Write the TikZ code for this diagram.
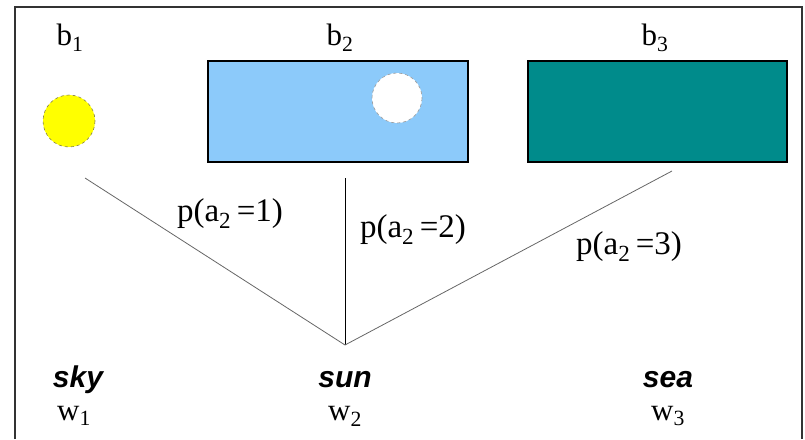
\documentclass[tikz,border=0pt]{standalone}
\usepackage{fontspec}
\setmainfont{Liberation Serif}
\setsansfont{Liberation Sans}
\definecolor{sunyellow}{RGB}{255,255,0}
\definecolor{skyblue}{RGB}{140,202,250}
\definecolor{seateal}{RGB}{0,139,139}

\begin{document}
\begin{tikzpicture}[x=1pt, y=-1pt,
  lbl/.style={font=\fontsize{31}{34}\selectfont, inner sep=0pt},
  word/.style={font=\sffamily\bfseries\itshape\fontsize{30}{32}\selectfont, inner sep=0pt},
  prob/.style={font=\fontsize{33}{36}\selectfont, inner sep=0pt}]
\useasboundingbox (0,0) rectangle (805,439);
\draw[black!80, line width=1.6pt] (15,439) -- (15,7) -- (802,7) -- (802,439);
% images
\filldraw[fill=sunyellow, draw=black!55!yellow, dashed, line width=0.6pt] (69,121) circle (26);
\filldraw[fill=skyblue, draw=black, line width=1.2pt] (208,61) rectangle (468,162);
\filldraw[fill=white, draw=black!40, dashed, line width=0.6pt] (397,98) circle (25);
\filldraw[fill=seateal, draw=black, line width=1.2pt] (528,61) rectangle (787,162);
\node[lbl] (b1) at (70,38) {b\textsubscript{1}};
\node[lbl] (b2) at (340,38) {b\textsubscript{2}};
\node[lbl] (b3) at (655,38) {b\textsubscript{3}};
% alignment lines
\coordinate (apex) at (345,345);
\coordinate (t1) at (85,178);
\coordinate (t2) at (345,178);
\coordinate (t3) at (672,171);
\draw[black!60, line width=0.8pt] (t1) -- (apex);
\draw[black, line width=1pt] (t2) -- (apex);
\draw[black!60, line width=0.8pt] (t3) -- (apex);
\node[prob] (p1) at (230,214) {p(a\textsubscript{2}\,=1)};
\node[prob] (p2) at (413,230) {p(a\textsubscript{2}\,=2)};
\node[prob] (p3) at (629,247) {p(a\textsubscript{2}\,=3)};
% words
\node[word] (sky) at (78,380) {sky};
\node[word] (sun) at (345,380) {sun};
\node[word] (sea) at (668,380) {sea};
\node[lbl] (w1) at (74,416) {w\textsubscript{1}};
\node[lbl] (w2) at (345,416) {w\textsubscript{2}};
\node[lbl] (w3) at (668,416) {w\textsubscript{3}};
\end{tikzpicture}
\end{document}
